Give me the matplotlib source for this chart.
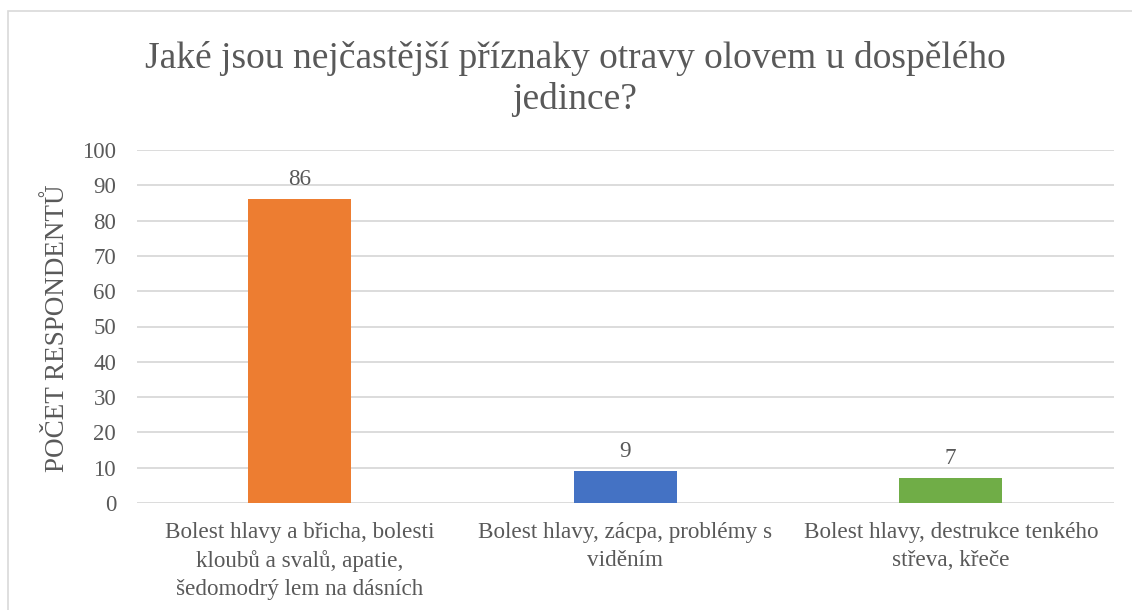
import matplotlib
matplotlib.use("Agg")
import matplotlib.pyplot as plt
from matplotlib.patches import Rectangle

categories = [
    "Bolest hlavy a břicha, bolesti\nkloubů a svalů, apatie,\nšedomodrý lem na dásních",
    "Bolest hlavy, zácpa, problémy s\nviděním",
    "Bolest hlavy, destrukce tenkého\nstřeva, křeče",
]
values = [86, 9, 7]
colors = ["#ED7D31", "#4472C4", "#70AD47"]
title = "Jaké jsou nejčastější příznaky otravy olovem u dospělého\njedince?"
ylabel = "POČET RESPONDENTŮ"
yticks = list(range(0, 101, 10))

plt.rcParams['font.family'] = ['Liberation Serif', 'DejaVu Serif']
text_color = "#595959"
grid_color = "#D9D9D9"

fig = plt.figure(figsize=(11.32, 6.10), dpi=100)
fig.patches.append(Rectangle((8/1132, -0.01), 1.1, 1 - 11/610 + 0.01, transform=fig.transFigure,
                             fill=False, edgecolor="#D9D9D9", linewidth=1.2))

ax = fig.add_axes([137/1132, 1 - 503/610, (1113.5 - 137)/1132, (503 - 150)/610])
x = list(range(len(categories)))
bars = ax.bar(x, values, width=0.316, color=colors, zorder=3)
ax.set_xlim(-0.5, len(categories) - 0.5)
ax.set_ylim(0, 100)
ax.set_yticks(yticks)
ax.set_xticks(x)
ax.set_xticklabels(categories, fontsize=16.7, color=text_color, linespacing=1.4)
ax.tick_params(axis='y', labelsize=16.5, labelcolor=text_color, length=0, pad=15)
ax.tick_params(axis='x', length=0, pad=14)
ax.yaxis.grid(True, color=grid_color, linewidth=1.3, zorder=0)
for s in ax.spines.values():
    s.set_visible(False)
ax.set_ylabel(ylabel, fontsize=19.5, color=text_color, va='center')
ax.yaxis.set_label_coords(-(137 - 58) / (1113.5 - 137), (503 - 328) / (503 - 150))

for b, v in zip(bars, values):
    ax.annotate(str(v), (b.get_x() + b.get_width() / 2, v), xytext=(0, 7),
                textcoords='offset points', ha='center', va='bottom',
                fontsize=16.7, color=text_color)

fig.text(575/1132, 1 - 79/610, title, ha='center', va='center', fontsize=27,
         color=text_color, linespacing=1.22)

fig.savefig("out.png", dpi=100)
